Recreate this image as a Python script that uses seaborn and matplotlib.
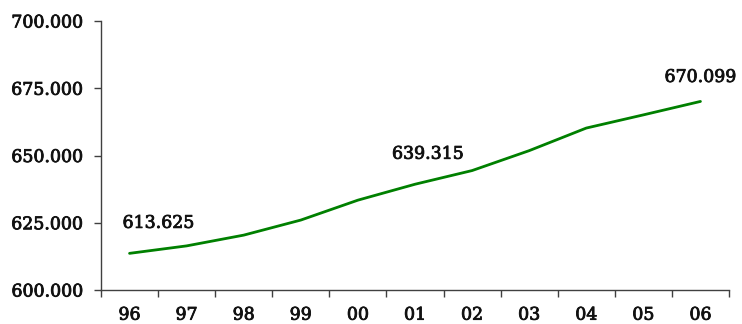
import matplotlib
matplotlib.use("Agg")
import matplotlib.pyplot as plt
import matplotlib.patheffects as pe
from matplotlib.ticker import FixedLocator, FuncFormatter
import seaborn as sns
import pandas as pd

years = ["96", "97", "98", "99", "00", "01", "02", "03", "04", "05", "06"]
values = [613.625, 616.4, 620.4, 626.0, 633.4, 639.315, 644.4, 651.8, 660.2, 665.1, 670.099]
labeled = {"96": (-7, 30, "left"), "01": (-23, 30, "left"), "06": (0, 24, "center")}

sns.set_style("white")
plt.rcParams["font.family"] = ["DejaVu Serif"]

TEXT_COLOR = "#111111"
heavier = [pe.withStroke(linewidth=0.6, foreground=TEXT_COLOR)]

df = pd.DataFrame({"year": years, "value": values})

fig = plt.figure(figsize=(7.42, 3.24), dpi=100)
ax = fig.add_axes([101 / 742, 1 - 290 / 324, (729 - 101) / 742, (290 - 21) / 324])

sns.lineplot(data=df, x="year", y="value", ax=ax, color="#008000", linewidth=2.0, sort=False)

ax.set_xlim(-0.5, len(years) - 0.5)
ax.set_ylim(600, 700)
ax.set_yticks([600, 625, 650, 675, 700])
ax.yaxis.set_major_formatter(FuncFormatter(lambda v, p: f"{v:.3f}"))

ax.set_xticks(range(len(years)))
ax.set_xticklabels(years)
ax.xaxis.set_minor_locator(FixedLocator([i - 0.5 for i in range(len(years) + 1)]))

ax.tick_params(axis="x", which="major", bottom=True, length=0, pad=12, labelsize=12.5, labelcolor=TEXT_COLOR)
ax.tick_params(axis="x", which="minor", bottom=True, length=5, width=1, color="#404040", direction="out")
ax.tick_params(axis="y", which="major", left=True, length=5, width=1, color="#404040", direction="out",
               labelsize=12.5, labelcolor=TEXT_COLOR, pad=8)

for t in ax.get_xticklabels() + ax.get_yticklabels():
    t.set_path_effects(heavier)

for side in ["top", "right"]:
    ax.spines[side].set_visible(False)
for side in ["left", "bottom"]:
    ax.spines[side].set_color("#404040")
    ax.spines[side].set_linewidth(1)

ax.set_xlabel("")
ax.set_ylabel("")

for yr, val in zip(years, values):
    if yr in labeled:
        dx, dy, ha = labeled[yr]
        i = years.index(yr)
        ax.annotate(f"{val:.3f}", xy=(i, val), xytext=(dx, dy), textcoords="offset pixels",
                    ha=ha, va="center", fontsize=12.5, color=TEXT_COLOR, path_effects=heavier)

fig.savefig("out.png", dpi=100)
